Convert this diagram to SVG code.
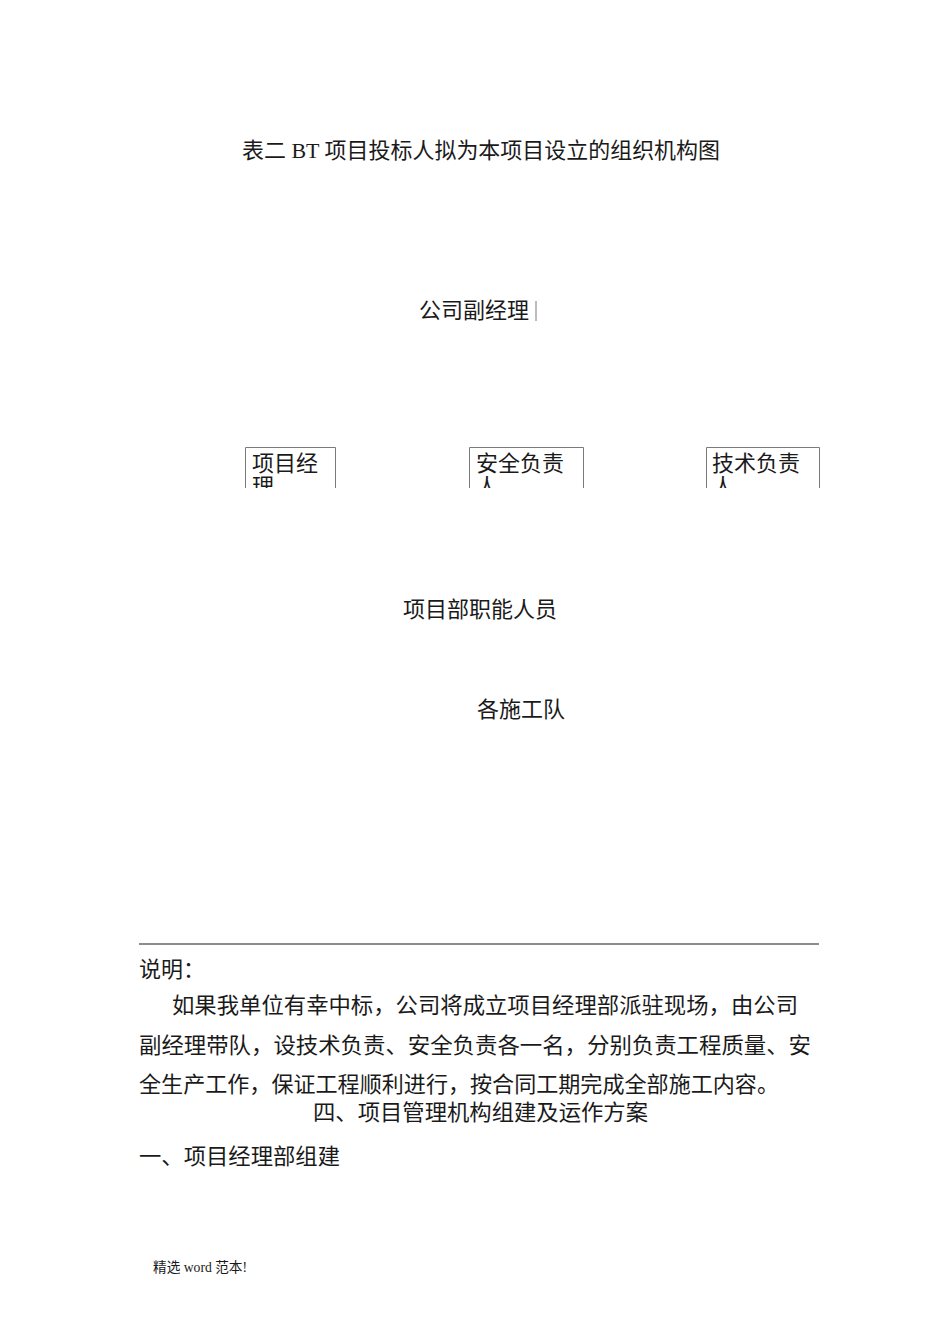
<svg xmlns="http://www.w3.org/2000/svg" width="950" height="1344" viewBox="0 0 950 1344">
<style>
text{font-family:"Liberation Serif","Noto Sans CJK SC",serif;fill:#1a1a1a;font-size:22px}
.box{fill:none;stroke:#7a7a7a;stroke-width:1}
.foot{font-size:14px}
</style>
<defs>
<clipPath id="clipBoxes"><rect x="0" y="440" width="950" height="48"/></clipPath>
</defs>
<rect width="950" height="1344" fill="#fff"/>
<text x="242" y="158" textLength="478" lengthAdjust="spacingAndGlyphs">表二 BT 项目投标人拟为本项目设立的组织机构图</text>
<g id="node-vice-manager">
<text x="419" y="318" textLength="110" lengthAdjust="spacingAndGlyphs">公司副经理</text>
<line x1="536" y1="301" x2="536" y2="321" stroke="#7a7a7a" stroke-width="1"/>
</g>
<g id="node-project-manager" clip-path="url(#clipBoxes)">
<path class="box" d="M245.5,488 V447.5 H335.5 V488"/>
<text x="252" y="471">项目经</text>
<text x="252" y="494">理</text>
</g>
<g id="node-safety" clip-path="url(#clipBoxes)">
<path class="box" d="M469.5,488 V447.5 H583.5 V488"/>
<text x="476" y="471">安全负责</text>
<text x="476" y="494">人</text>
</g>
<g id="node-tech" clip-path="url(#clipBoxes)">
<path class="box" d="M706.5,488 V447.5 H819.5 V488"/>
<text x="712" y="471">技术负责</text>
<text x="712" y="494">人</text>
</g>
<g id="node-staff">
<text x="403" y="617" textLength="154" lengthAdjust="spacingAndGlyphs">项目部职能人员</text>
</g>
<g id="node-teams">
<text x="477" y="717" textLength="88" lengthAdjust="spacingAndGlyphs">各施工队</text>
</g>
<g id="connectors"></g>
<line x1="139" y1="944" x2="819" y2="944" stroke="#666" stroke-width="1.6"/>
<text x="139" y="977">说明：</text>
<text x="172" y="1013" textLength="626" lengthAdjust="spacingAndGlyphs">如果我单位有幸中标，公司将成立项目经理部派驻现场，由公司</text>
<text x="139" y="1053" textLength="672" lengthAdjust="spacingAndGlyphs">副经理带队，设技术负责、安全负责各一名，分别负责工程质量、安</text>
<text x="139" y="1092" textLength="640" lengthAdjust="spacingAndGlyphs">全生产工作，保证工程顺利进行，按合同工期完成全部施工内容。</text>
<text x="313" y="1120" textLength="335" lengthAdjust="spacingAndGlyphs">四、项目管理机构组建及运作方案</text>
<text x="139" y="1164" textLength="201" lengthAdjust="spacingAndGlyphs">一、项目经理部组建</text>
<text class="foot" x="153" y="1272" textLength="94" lengthAdjust="spacingAndGlyphs">精选 word 范本!</text>
</svg>
